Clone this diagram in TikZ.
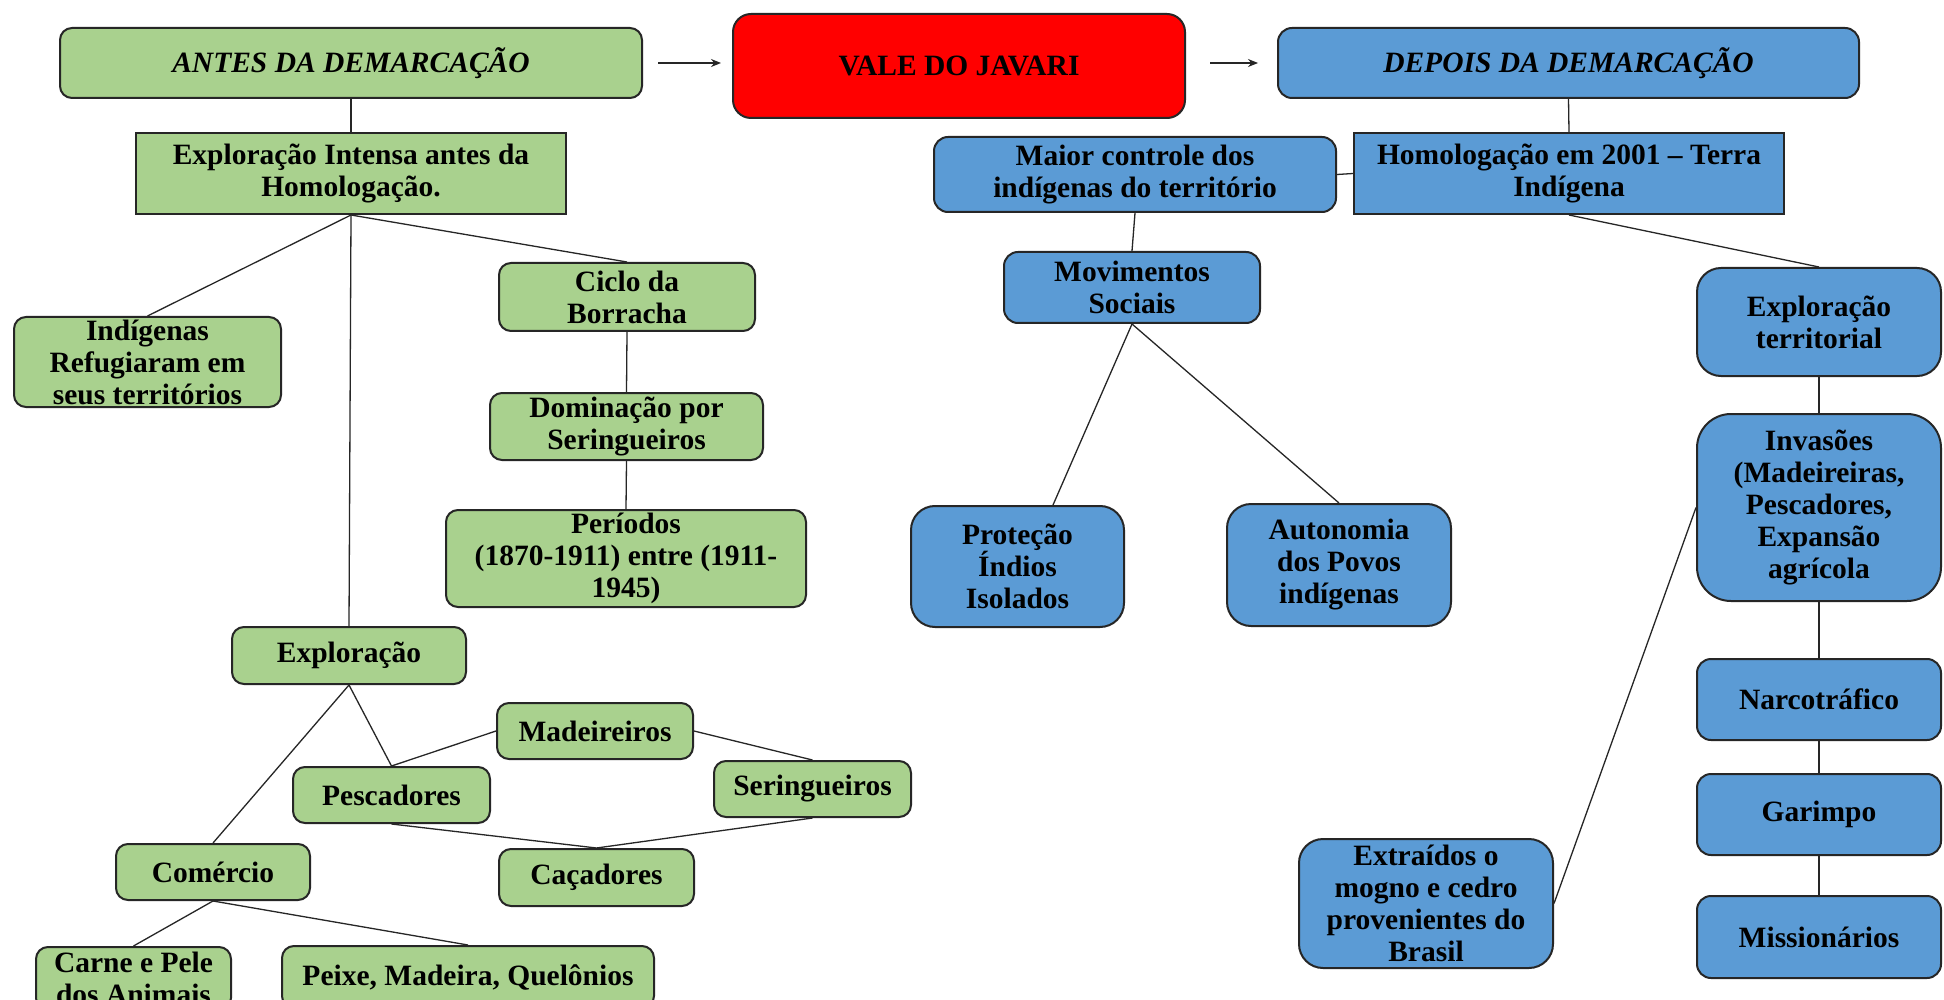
\documentclass[tikz,border=0pt]{standalone}
\usepackage{fontspec}
\setmainfont{Liberation Serif}
\usetikzlibrary{arrows.meta}
\definecolor{boxgreen}{HTML}{A9D18E}
\definecolor{boxblue}{HTML}{5B9BD5}
\definecolor{boxred}{HTML}{FF0000}
\definecolor{edgecol}{HTML}{262626}
\tikzset{
  box/.style={draw=edgecol, line width=2pt, align=center, inner sep=0pt, text=black,
    font=\bfseries\fontsize{29.5}{32}\selectfont},
  gbox/.style={box, fill=boxgreen, rounded corners=12pt},
  gsq/.style={box, fill=boxgreen},
  bbox/.style={box, fill=boxblue, rounded corners=14pt},
  bbig/.style={box, fill=boxblue, rounded corners=24pt},
  bsq/.style={box, fill=boxblue},
  rbox/.style={box, fill=boxred, rounded corners=18pt},
  conn/.style={draw=edgecol, line width=1.3pt},
  arrowc/.style={conn, -{Stealth[length=10pt,width=8pt]}}
}
\begin{document}
\begin{tikzpicture}[x=1pt,y=-1pt]
\useasboundingbox (0,0) rectangle (1944,1000);
\fill[white] (0,0) rectangle (1944,1000);
\clip (0,0) rectangle (1944,1000);

% top row
\node[gbox, minimum width=582pt, minimum height=70pt] (antes) at (351,63) {\itshape ANTES DA DEMARCAÇÃO};
\node[rbox, minimum width=452pt, minimum height=104pt] (vale) at (959,66) {VALE DO JAVARI};
\node[bbox, minimum width=581pt, minimum height=70pt] (depois) at (1568.5,63) {\itshape DEPOIS DA DEMARCAÇÃO};

% left (green) side
\node[gsq, minimum width=430pt, minimum height=81pt] (expint) at (351,173.5) {Exploração Intensa antes da\\Homologação.};
\node[gbox, minimum width=267pt, minimum height=90pt] (indig) at (147.5,362) {Indígenas\\Refugiaram em\\seus territórios};
\node[gbox, minimum width=256pt, minimum height=68pt] (ciclo) at (627,297) {Ciclo da\\Borracha};
\node[gbox, minimum width=273pt, minimum height=67pt] (domin) at (626.5,426.5) {Dominação por\\Seringueiros};
\node[gbox, minimum width=360pt, minimum height=97pt] (period) at (626,558.5) {Períodos\\(1870-1911) entre (1911-\\1945)};
\node[gbox, minimum width=234pt, minimum height=57pt] (explor) at (349,655.5) {Exploração};
\node[gbox, minimum width=196pt, minimum height=56pt] (madeir) at (595,731) {Madeireiros};
\node[gbox, minimum width=197pt, minimum height=56pt] (pesc) at (391.5,795) {Pescadores};
\node[gbox, minimum width=197pt, minimum height=56pt] (sering) at (812.5,789) {Seringueiros};
\node[gbox, minimum width=195pt, minimum height=57pt] (cacad) at (596.5,877.5) {Caçadores};
\node[gbox, minimum width=194pt, minimum height=56pt] (comerc) at (213,872) {Comércio};
\node[gbox, minimum width=195pt, minimum height=63pt] (carne) at (133.5,978.5) {Carne e Pele\\dos Animais};
\node[gbox, minimum width=372pt, minimum height=62pt] (peixe) at (468,977) {Peixe, Madeira, Quelônios};

% right (blue) side
\node[bbox, minimum width=402pt, minimum height=75pt] (maior) at (1135,174.5) {Maior controle dos\\indígenas do território};
\node[bsq, minimum width=430pt, minimum height=81pt] (homol) at (1569,173.5) {Homologação em 2001 – Terra\\Indígena};
\node[bbox, minimum width=256pt, minimum height=71pt] (movim) at (1132,287.5) {Movimentos\\Sociais};
\node[bbig, minimum width=213pt, minimum height=121pt] (prot) at (1017.5,566.5) {Proteção\\Índios\\Isolados};
\node[bbig, minimum width=224pt, minimum height=122pt] (auton) at (1339,565) {Autonomia\\dos Povos\\indígenas};
\node[bbig, minimum width=244pt, minimum height=108pt] (expterr) at (1819,322) {Exploração\\territorial};
\node[bbig, minimum width=244pt, minimum height=187pt, rounded corners=34pt] (invas) at (1819,507.5) {Invasões\\(Madeireiras,\\Pescadores,\\Expansão\\agrícola};
\node[bbox, minimum width=244pt, minimum height=81pt] (narco) at (1819,699.5) {Narcotráfico};
\node[bbox, minimum width=244pt, minimum height=81pt] (garimpo) at (1819,814.5) {Garimpo};
\node[bbox, minimum width=244pt, minimum height=82pt] (mission) at (1819,937) {Missionários};
\node[bbig, minimum width=254pt, minimum height=129pt] (extr) at (1426,903.5) {Extraídos o\\mogno e cedro\\provenientes do\\Brasil};

% arrows
\draw[arrowc] ([xshift=15pt]antes.east) -- ([xshift=-11pt]antes.east -| vale.west);
\draw[arrowc] ([xshift=24pt]vale.east |- depois.west) -- ([xshift=-19pt]depois.west);

% left connectors
\draw[conn] (antes.south) -- (expint.north);
\draw[conn] (expint.south) -- (indig.north);
\draw[conn] (expint.south) -- (explor.north);
\draw[conn] (expint.south) -- (ciclo.north);
\draw[conn] (ciclo.south) -- (domin.north);
\draw[conn] (domin.south) -- (period.north);
\draw[conn] (explor.south) -- (pesc.north);
\draw[conn] (explor.south) -- (comerc.north);
\draw[conn] (pesc.north) -- (madeir.west);
\draw[conn] (madeir.east) -- (sering.north);
\draw[conn] (pesc.south) -- (cacad.north);
\draw[conn] (sering.south) -- (cacad.north);
\draw[conn] (comerc.south) -- (carne.north);
\draw[conn] (comerc.south) -- (peixe.north);

% right connectors
\draw[conn] (depois.south) -- (homol.north);
\draw[conn] (maior.east) -- (homol.west);
\draw[conn] (maior.south) -- (movim.north);
\draw[conn] (movim.south) -- (prot.60);
\draw[conn] (movim.south) -- (auton.north);
\draw[conn] (homol.south) -- (expterr.north);
\draw[conn] (expterr.south) -- (invas.north);
\draw[conn] (invas.south) -- (narco.north);
\draw[conn] (narco.south) -- (garimpo.north);
\draw[conn] (garimpo.south) -- (mission.north);
\draw[conn] (extr.east) -- (invas.west);
\end{tikzpicture}
\end{document}
